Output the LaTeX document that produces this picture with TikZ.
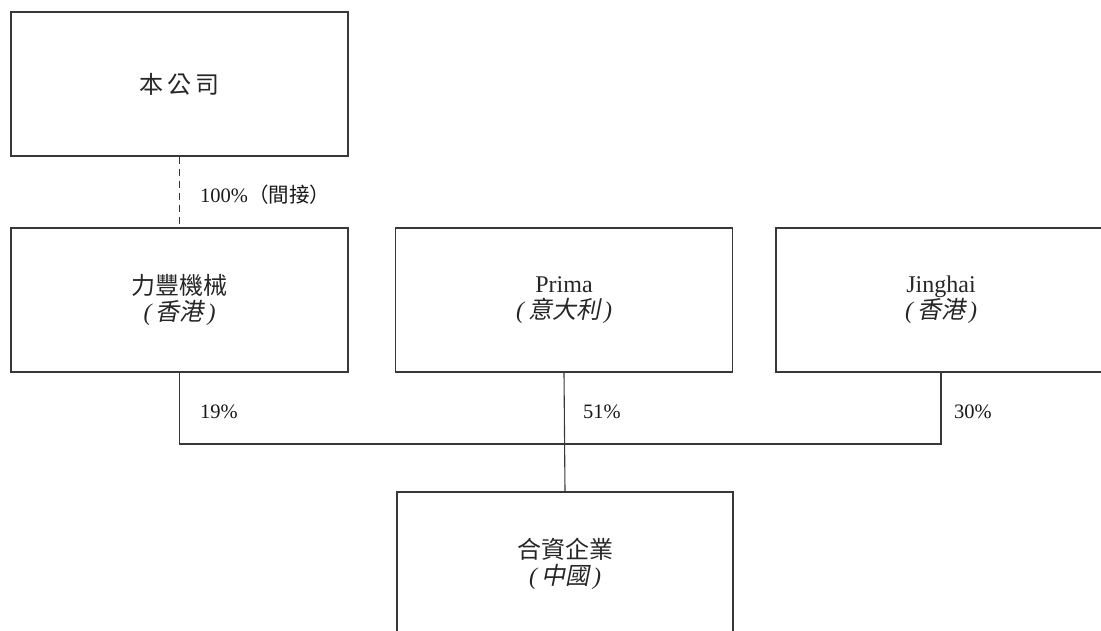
\documentclass[tikz,border=0pt]{standalone}
\usepackage{fontspec}
\setmainfont{Liberation Serif}
\newfontfamily\cjk{Noto Sans CJK TC}
\newfontfamily\cjkit{Noto Sans CJK TC}[FakeSlant=0.2]
\newcommand{\itcjk}[1]{{\itshape(\,}{\cjkit #1}{\itshape\,)}}
\begin{document}
\begin{tikzpicture}[x=1pt,y=-1pt,
  ent/.style={draw=black!78, line width=1.1pt, rectangle, minimum height=144pt,
    align=center, inner sep=0pt, font=\fontsize{24}{26}\selectfont, text=black!85},
  lnk/.style={draw=black!78, line width=1.1pt},
  pct/.style={anchor=west, inner sep=0pt, font=\fontsize{20.5}{25}\selectfont, text=black!90}]
\useasboundingbox (0,0) rectangle (1101,630);
\clip (0,0) rectangle (1101,630);
\node[ent, minimum width=337pt] (top) at (179.5,84) {{\cjk 本\,公\,司}};
\node[ent, minimum width=337pt] (lf) at (179.5,300) {{\cjk 力豐機械}\\[0pt]\itcjk{香港}};
\node[ent, minimum width=337pt] (pr) at (564,300) {Prima\\[0pt]\itcjk{意大利}};
\node[ent, minimum width=330pt] (jh) at (941,300) {Jinghai\\[0pt]\itcjk{香港}};
\node[ent, minimum width=336pt] (jv) at (565,564) {{\cjk 合資企業}\\[0pt]\itcjk{中國}};
\coordinate (bus) at (0,444);
\draw[lnk, dash pattern=on 7pt off 5pt] (top.south) -- (lf.north);
\draw[lnk] (lf.south) -- (lf.south |- bus) -- (jh.south |- bus) -- (jh.south);
\draw[lnk] (pr.south) -- (jv.north);
\node[pct] (p100) at (200,195) {100\%{\cjk （間接）}};
\node[pct] (p19) at (200,412) {19\%};
\node[pct] (p51) at (583,412) {51\%};
\node[pct] (p30) at (954,412) {30\%};
\end{tikzpicture}
\end{document}
